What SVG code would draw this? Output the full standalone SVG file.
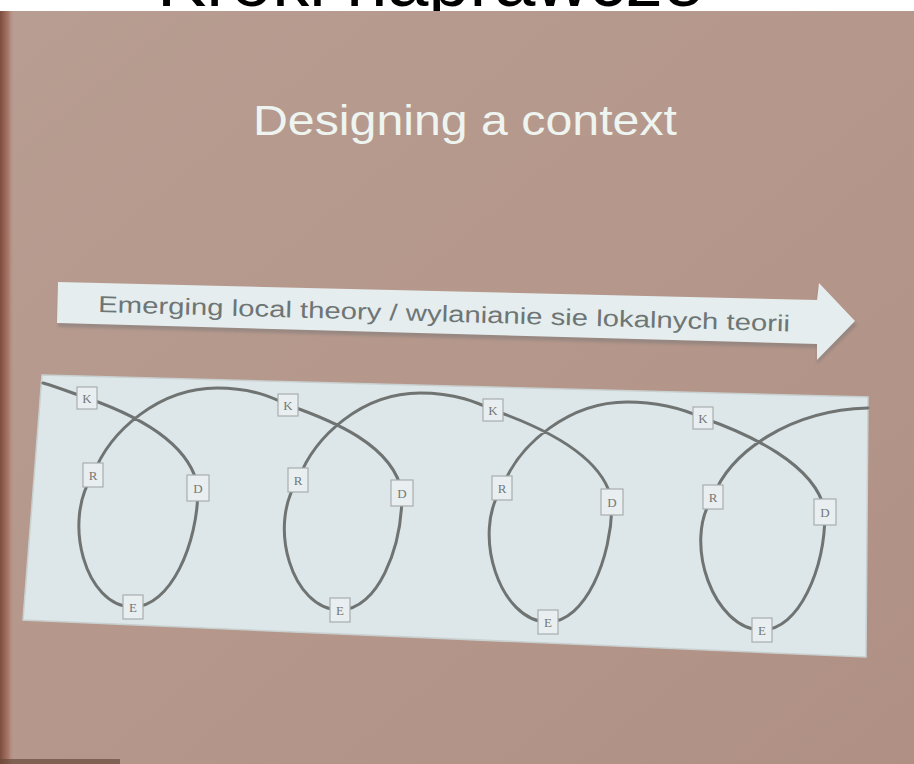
<svg xmlns="http://www.w3.org/2000/svg" width="914" height="764" viewBox="0 0 914 764">
<defs>
<style>
.box{fill:#e9eff0;stroke:#a9aeae;stroke-width:1.2}
.lbl{font-family:"Liberation Serif","Times New Roman",serif;font-size:13px;fill:#737878;text-anchor:middle}
.curve{fill:none;stroke:#6f7372;stroke-width:3;stroke-linecap:round;stroke-linejoin:round}
</style>
<linearGradient id="bg" x1="0" y1="0" x2="1" y2="1">
<stop offset="0" stop-color="#b89d92"/>
<stop offset="0.5" stop-color="#b5978b"/>
<stop offset="1" stop-color="#b09084"/>
</linearGradient>
<linearGradient id="edge" x1="0" y1="0" x2="1" y2="0">
<stop offset="0" stop-color="#7e4c3c"/>
<stop offset="0.6" stop-color="#a8786a"/>
<stop offset="1" stop-color="#b5978b" stop-opacity="0"/>
</linearGradient>
<clipPath id="topclip"><rect x="0" y="0" width="914" height="11"/></clipPath>
<filter id="soft" x="-5%" y="-20%" width="110%" height="140%"><feGaussianBlur stdDeviation="1.5"/></filter>
</defs>

<rect x="0" y="0" width="914" height="764" fill="url(#bg)"/>
<rect x="0" y="10" width="14" height="754" fill="url(#edge)"/>
<rect x="0" y="759" width="120" height="5" fill="#6a4a3c" opacity="0.7"/>

<g id="page-title">
<rect x="0" y="0" width="914" height="11" fill="#ffffff"/>
<text x="157" y="6" clip-path="url(#topclip)" font-family="Liberation Sans, Arial, sans-serif" font-size="74" fill="#000000">Kroki naprawcze</text>
</g>

<g id="title">
<text x="253" y="135" font-family="Liberation Sans, Arial, sans-serif" font-size="43" fill="#eef4ef" textLength="424" lengthAdjust="spacingAndGlyphs">Designing a context</text>
</g>

<g id="theory-arrow">
<polygon points="59,286 817,303 819,287 857,325 817,364 817,348 58,327" fill="#7f7a78" opacity="0.55" filter="url(#soft)"/>
<polygon points="58,282 817,300 819,283 855,321 817,360 817,344 57,323" fill="#e5edee"/>
<text x="98" y="312" transform="rotate(1.6 98 312)" font-family="Liberation Sans, Arial, sans-serif" font-size="23" fill="#6e7575" textLength="692" lengthAdjust="spacingAndGlyphs">Emerging local theory / wylanianie sie lokalnych teorii</text>
</g>

<g id="panel">
<polygon points="42,375 868,397 866,657 23,620" fill="#dde6e8" stroke="#c9d0d0" stroke-width="1.5"/>
</g>

<g id="connectors">
<path class="curve" d="M43,383 C60,388 75,394 87,398
C130,413 190,440 198,488 C198,545 170,607 133,607 C85,607 62,520 93,475
C110,430 160,388 217,388 C255,388 275,399 288,405
C331,420 394,445 402,493 C402,550 377,610 340,610 C292,610 267,525 298,480
C315,435 363,393 420,393 C458,393 480,404 493,410
C536,425 604,454 612,502 C612,559 585,622 548,622 C500,622 471,533 502,488
C519,443 570,402 627,402 C665,402 690,412 703,418
C746,433 817,464 825,512 C825,569 799,630 762,630 C714,630 682,542 713,497
C730,452 790,410 868,408"/>
</g>

<g id="loop1-K"><rect class="box" x="77" y="387" width="20" height="22"/><text class="lbl" x="87" y="403">K</text></g>
<g id="loop1-R"><rect class="box" x="83" y="463" width="20" height="24"/><text class="lbl" x="93" y="480">R</text></g>
<g id="loop1-D"><rect class="box" x="187" y="475" width="22" height="26"/><text class="lbl" x="198" y="493">D</text></g>
<g id="loop1-E"><rect class="box" x="123" y="595" width="20" height="24"/><text class="lbl" x="133" y="612">E</text></g>

<g id="loop2-K"><rect class="box" x="278" y="394" width="20" height="22"/><text class="lbl" x="288" y="410">K</text></g>
<g id="loop2-R"><rect class="box" x="288" y="468" width="20" height="24"/><text class="lbl" x="298" y="485">R</text></g>
<g id="loop2-D"><rect class="box" x="391" y="480" width="22" height="26"/><text class="lbl" x="402" y="498">D</text></g>
<g id="loop2-E"><rect class="box" x="330" y="598" width="20" height="24"/><text class="lbl" x="340" y="615">E</text></g>

<g id="loop3-K"><rect class="box" x="483" y="399" width="20" height="22"/><text class="lbl" x="493" y="415">K</text></g>
<g id="loop3-R"><rect class="box" x="492" y="476" width="20" height="24"/><text class="lbl" x="502" y="493">R</text></g>
<g id="loop3-D"><rect class="box" x="601" y="489" width="22" height="26"/><text class="lbl" x="612" y="507">D</text></g>
<g id="loop3-E"><rect class="box" x="538" y="610" width="20" height="24"/><text class="lbl" x="548" y="627">E</text></g>

<g id="loop4-K"><rect class="box" x="693" y="407" width="20" height="22"/><text class="lbl" x="703" y="423">K</text></g>
<g id="loop4-R"><rect class="box" x="703" y="485" width="20" height="24"/><text class="lbl" x="713" y="502">R</text></g>
<g id="loop4-D"><rect class="box" x="814" y="499" width="22" height="26"/><text class="lbl" x="825" y="517">D</text></g>
<g id="loop4-E"><rect class="box" x="752" y="618" width="20" height="24"/><text class="lbl" x="762" y="635">E</text></g>
</svg>
